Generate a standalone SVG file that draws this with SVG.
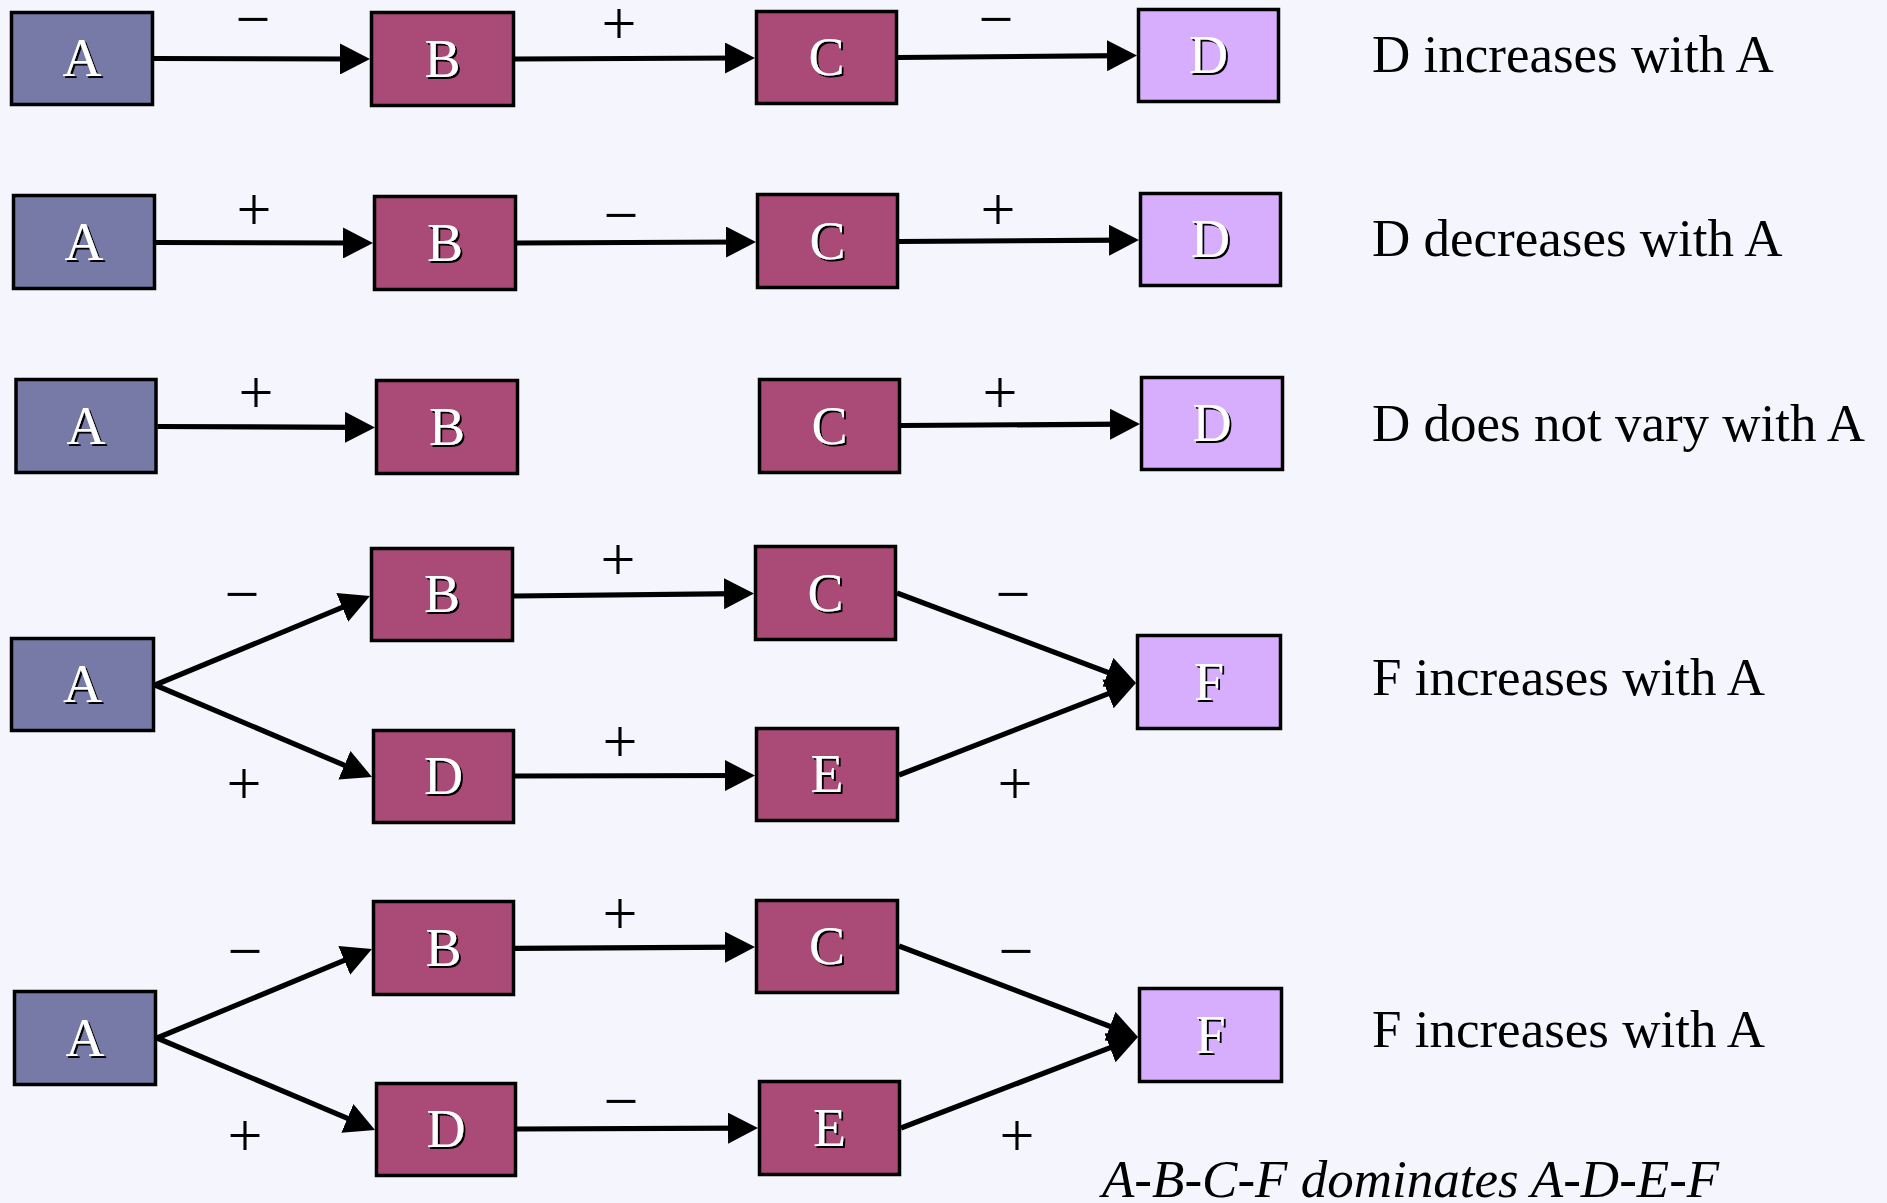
<svg xmlns="http://www.w3.org/2000/svg" width="1887" height="1203" viewBox="0 0 1887 1203">
  <defs>
    <style>
      .node rect { stroke: #000; stroke-width: 3.5; }
      .src rect { fill: #777aa6; }
      .mid rect { fill: #aa4a76; }
      .dst rect { fill: #d7aefd; }
      .node text { font-family: "Liberation Serif", "Times New Roman", serif; font-size: 54px; fill: #fff; text-anchor: middle; filter: url(#shadow); }
      .edge { stroke: #000; stroke-width: 5.2; fill: none; marker-end: url(#arrow); }
      .sign { font-family: "Liberation Serif", "Times New Roman", serif; font-size: 62px; fill: #000; text-anchor: middle; }
      .note { font-family: "Liberation Serif", "Times New Roman", serif; font-size: 53px; fill: #000; }
      .note.it { font-style: italic; }
    </style>
    <filter id="shadow" x="-20%" y="-20%" width="140%" height="140%">
      <feDropShadow dx="2" dy="2" stdDeviation="0.6" flood-color="#000" flood-opacity="1"/>
    </filter>
    <marker id="arrow" viewBox="0 0 30 31" markerUnits="userSpaceOnUse" markerWidth="30" markerHeight="31" refX="15" refY="15.5" orient="auto">
      <path d="M0,0 L30,15.5 L0,31 Z" fill="#000"/>
    </marker>
  </defs>

  <rect width="1887" height="1203" fill="#f4f5fd"/>

  <!-- connectors: lines stop 15px short of the tip, the marker supplies the rest -->
  <g id="connectors">
    <!-- row 1 -->
    <line class="edge" x1="154" y1="58.5" x2="355" y2="59"/>
    <line class="edge" x1="515" y1="59" x2="740" y2="58"/>
    <line class="edge" x1="898" y1="57.5" x2="1122" y2="55.6"/>
    <!-- row 2 -->
    <line class="edge" x1="156" y1="242.5" x2="358" y2="243"/>
    <line class="edge" x1="517" y1="243" x2="741" y2="242"/>
    <line class="edge" x1="899" y1="241.5" x2="1124" y2="240.1"/>
    <!-- row 3 -->
    <line class="edge" x1="157.5" y1="426.5" x2="360" y2="427.4"/>
    <line class="edge" x1="901" y1="425.5" x2="1125" y2="424.1"/>
    <!-- row 4 -->
    <line class="edge" x1="155" y1="685" x2="356.1" y2="601.7"/>
    <line class="edge" x1="155" y1="685" x2="358.2" y2="771.1"/>
    <line class="edge" x1="514" y1="596" x2="739" y2="593.6"/>
    <line class="edge" x1="515" y1="776" x2="740" y2="775.5"/>
    <line class="edge" x1="897" y1="593" x2="1122" y2="677.7"/>
    <line class="edge" x1="899" y1="775" x2="1122" y2="688.4"/>
    <!-- row 5 -->
    <line class="edge" x1="157" y1="1038" x2="358.1" y2="954.7"/>
    <line class="edge" x1="157" y1="1038" x2="361.2" y2="1124.2"/>
    <line class="edge" x1="515" y1="948.3" x2="740" y2="947.1"/>
    <line class="edge" x1="517" y1="1129" x2="743" y2="1128.1"/>
    <line class="edge" x1="899" y1="946" x2="1124" y2="1031.7"/>
    <line class="edge" x1="901" y1="1128" x2="1124" y2="1042.4"/>
  </g>

  <!-- sign of each influence -->
  <g id="signs">
    <text class="sign" x="253" y="40">−</text>
    <text class="sign" x="619" y="44">+</text>
    <text class="sign" x="996" y="40">−</text>

    <text class="sign" x="254" y="230">+</text>
    <text class="sign" x="621" y="236">−</text>
    <text class="sign" x="998" y="230">+</text>

    <text class="sign" x="256" y="413">+</text>
    <text class="sign" x="1000" y="413">+</text>

    <text class="sign" x="242" y="615">−</text>
    <text class="sign" x="244" y="804">+</text>
    <text class="sign" x="618" y="580">+</text>
    <text class="sign" x="620" y="762">+</text>
    <text class="sign" x="1013" y="615">−</text>
    <text class="sign" x="1015" y="804">+</text>

    <text class="sign" x="245" y="972">−</text>
    <text class="sign" x="245" y="1156">+</text>
    <text class="sign" x="620" y="934">+</text>
    <text class="sign" x="621" y="1122">−</text>
    <text class="sign" x="1016" y="972">−</text>
    <text class="sign" x="1017" y="1156">+</text>
  </g>

  <!-- row 1: A - B + C - D -->
  <g id="r1-A" class="node src"><rect x="11.5" y="12.5" width="141" height="92"/><text x="82" y="76">A</text></g>
  <g id="r1-B" class="node mid"><rect x="371.5" y="12.5" width="142" height="93"/><text x="442.5" y="76.5">B</text></g>
  <g id="r1-C" class="node mid"><rect x="756.5" y="11.5" width="140" height="92"/><text x="826.5" y="75">C</text></g>
  <g id="r1-D" class="node dst"><rect x="1138.5" y="9.5" width="140" height="92"/><text x="1208.5" y="73">D</text></g>

  <!-- row 2: A + B - C + D -->
  <g id="r2-A" class="node src"><rect x="13.5" y="195.5" width="141" height="93"/><text x="84" y="259.5">A</text></g>
  <g id="r2-B" class="node mid"><rect x="374.5" y="196.5" width="141" height="93"/><text x="445" y="260.5">B</text></g>
  <g id="r2-C" class="node mid"><rect x="757.5" y="194.5" width="140" height="93"/><text x="827.5" y="258.5">C</text></g>
  <g id="r2-D" class="node dst"><rect x="1140.5" y="193.5" width="140" height="92"/><text x="1210.5" y="257">D</text></g>

  <!-- row 3: A + B, C + D (no link between B and C) -->
  <g id="r3-A" class="node src"><rect x="16" y="379.5" width="140" height="93"/><text x="86" y="443.5">A</text></g>
  <g id="r3-B" class="node mid"><rect x="376.5" y="380.5" width="141" height="93"/><text x="447" y="444.5">B</text></g>
  <g id="r3-C" class="node mid"><rect x="759.5" y="379.5" width="140" height="93"/><text x="829.5" y="443.5">C</text></g>
  <g id="r3-D" class="node dst"><rect x="1141.5" y="377.5" width="141" height="92"/><text x="1212" y="441">D</text></g>

  <!-- row 4: two paths from A to F -->
  <g id="r4-A" class="node src"><rect x="11.5" y="638.5" width="142" height="92"/><text x="82.5" y="702">A</text></g>
  <g id="r4-B" class="node mid"><rect x="371.5" y="548.5" width="141" height="92"/><text x="442" y="612">B</text></g>
  <g id="r4-C" class="node mid"><rect x="755.5" y="546.5" width="140" height="93"/><text x="825.5" y="610.5">C</text></g>
  <g id="r4-D" class="node mid"><rect x="373.5" y="730.5" width="140" height="92"/><text x="443.5" y="794">D</text></g>
  <g id="r4-E" class="node mid"><rect x="756.5" y="728.5" width="141" height="92"/><text x="827" y="792">E</text></g>
  <g id="r4-F" class="node dst"><rect x="1137.5" y="635.5" width="143" height="93"/><text x="1209" y="699.5">F</text></g>

  <!-- row 5: two paths from A to F, upper one dominating -->
  <g id="r5-A" class="node src"><rect x="14.5" y="991.5" width="141" height="93"/><text x="85" y="1055.5">A</text></g>
  <g id="r5-B" class="node mid"><rect x="373.5" y="901.5" width="140" height="93"/><text x="443.5" y="965.5">B</text></g>
  <g id="r5-C" class="node mid"><rect x="756.5" y="900.5" width="141" height="92"/><text x="827" y="964">C</text></g>
  <g id="r5-D" class="node mid"><rect x="376.5" y="1083.5" width="139" height="92"/><text x="446" y="1147">D</text></g>
  <g id="r5-E" class="node mid"><rect x="759.5" y="1081.5" width="140" height="93"/><text x="829.5" y="1145.5">E</text></g>
  <g id="r5-F" class="node dst"><rect x="1139.5" y="988.5" width="142" height="93"/><text x="1210.5" y="1052.5">F</text></g>

  <!-- outcome of each chain -->
  <g id="notes">
    <text class="note" x="1372" y="71.5">D increases with A</text>
    <text class="note" x="1372" y="256">D decreases with A</text>
    <text class="note" x="1372" y="440.5">D does not vary with A</text>
    <text class="note" x="1372" y="695">F increases with A</text>
    <text class="note" x="1372" y="1046.5">F increases with A</text>
    <text class="note it" x="1102" y="1197">A-B-C-F dominates A-D-E-F</text>
  </g>
</svg>
